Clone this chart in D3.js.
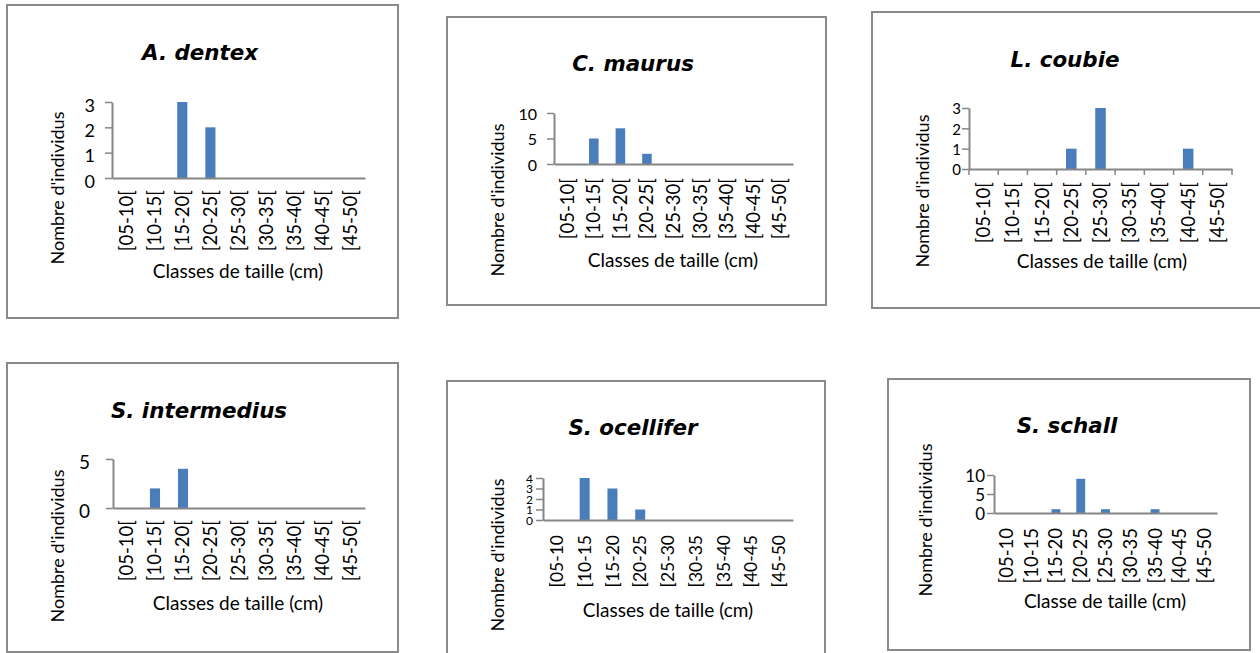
<!DOCTYPE html>
<html>
<head>
<meta charset="utf-8">
<script src="https://cdn.jsdelivr.net/npm/d3@7"></script>
<style>
  html, body { margin: 0; padding: 0; background: #fff; }
  svg { display: block; font-family: Lato, "Open Sans", sans-serif; }
</style>
</head>
<body>
<svg id="chart" width="1260" height="653"></svg>
<script>
// ---------- DATA ----------
const classesClosed = ["[05-10[", "[10-15[", "[15-20[", "[20-25[", "[25-30[", "[30-35[", "[35-40[", "[40-45[", "[45-50["];
const classesOpen   = ["[05-10", "[10-15", "[15-20", "[20-25", "[25-30", "[30-35", "[35-40", "[40-45", "[45-50"];

const speciesNames = ["A. dentex", "C. maurus", "L. coubie", "S. intermedius", "S. ocellifer", "S. schall"];

const dentexCounts      = [0, 0, 3, 2, 0, 0, 0, 0, 0];
const maurusCounts      = [0, 5, 7, 2, 0, 0, 0, 0, 0];
const coubieCounts      = [0, 0, 0, 1, 3, 0, 0, 1, 0];
const intermediusCounts = [0, 2, 4, 0, 0, 0, 0, 0, 0];
const ocelliferCounts   = [0, 4, 3, 1, 0, 0, 0, 0, 0];
const schallCounts      = [0, 0, 1, 9, 1, 0, 1, 0, 0];

const dentexTicks      = [0, 1, 2, 3];
const maurusTicks      = [0, 5, 10];
const coubieTicks      = [0, 1, 2, 3];
const intermediusTicks = [0, 5];
const ocelliferTicks   = [0, 1, 2, 3, 4];
const schallTicks      = [0, 5, 10];

const yTitle = "Nombre d'individus";
const xTitlePlural = "Classes de taille (cm)";
const xTitleSingular = "Classe de taille (cm)";

// ---------- LAYOUT (positions / sizes / styles) ----------
const layouts = [
  { frame:[7,5,398,318],     ax:[112,365,178,102],  title:[200,60],   yFont:18, yPad:10, yDy:"0.5em",  xOff:12, xFont:18.5, xTitle:[238,278],  yT:[57,188],  xTicks:false },
  { frame:[447,17,826,305],  ax:[554,793,164,113],  title:[633,71],   yFont:16, yPad:10, yDy:"0.38em", xOff:14, xFont:18.5, xTitle:[673,267],  yT:[497,200], xTicks:false },
  { frame:[872,12,1264,308], ax:[969,1232,169,108], title:[1065,67],  yFont:15, yPad:1,  yDy:"0.38em", xOff:13, xFont:18.5, xTitle:[1102,268], yT:[922,191], xTicks:true },
  { frame:[7,363,398,652],   ax:[113,365,508,459],  title:[199,418],  yFont:19, yPad:16, yDy:"0.5em",  xOff:12, xFont:18.5, xTitle:[238,610],  yT:[57,546],  xTicks:false },
  { frame:[447,381,825,662], ax:[543,793,520,478],  title:[633,435],  yFont:12, yPad:3,  yDy:"0.35em", xOff:15, xFont:17.5, xTitle:[668,617],  yT:[497,555], xTicks:false },
  { frame:[888,379,1250,650],ax:[994,1217,513,475], title:[1067,433], yFont:17, yPad:2,  yDy:"0.38em", xOff:15, xFont:18.5, xTitle:[1105,608], yT:[925,520], xTicks:false }
];

const panels = [
  { name: speciesNames[0], counts: dentexCounts,      ticks: dentexTicks,      cats: classesClosed, xTitle: xTitlePlural },
  { name: speciesNames[1], counts: maurusCounts,      ticks: maurusTicks,      cats: classesClosed, xTitle: xTitlePlural },
  { name: speciesNames[2], counts: coubieCounts,      ticks: coubieTicks,      cats: classesClosed, xTitle: xTitlePlural },
  { name: speciesNames[3], counts: intermediusCounts, ticks: intermediusTicks, cats: classesClosed, xTitle: xTitlePlural },
  { name: speciesNames[4], counts: ocelliferCounts,   ticks: ocelliferTicks,   cats: classesOpen,   xTitle: xTitlePlural },
  { name: speciesNames[5], counts: schallCounts,      ticks: schallTicks,      cats: classesOpen,   xTitle: xTitleSingular }
];

const barColor = "#4a7ebb";
const axisColor = "#868686";
const frameColor = "#8a8a8a";
const titleFont = "'DejaVu Sans', Verdana, sans-serif";
const bodyFont = "Lato, sans-serif";

const svg = d3.select("#chart");

panels.forEach((p, i) => {
  const L = layouts[i];
  const g = svg.append("g");

  // frame
  g.append("rect")
    .attr("x", L.frame[0]).attr("y", L.frame[1])
    .attr("width", L.frame[2] - L.frame[0]).attr("height", L.frame[3] - L.frame[1])
    .attr("fill", "#fff").attr("stroke", frameColor).attr("stroke-width", 2);

  const [x0, x1, y0, yTop] = L.ax;
  const x = d3.scaleBand().domain(p.cats).range([x0, x1]).paddingInner(0.64).paddingOuter(0.32);
  const y = d3.scaleLinear().domain([0, d3.max(p.ticks)]).range([y0, yTop]);

  // title
  g.append("text")
    .attr("x", L.title[0]).attr("y", L.title[1])
    .attr("text-anchor", "middle")
    .attr("font-family", titleFont)
    .attr("font-size", 21.4).attr("font-weight", "bold").attr("font-style", "italic")
    .attr("fill", "#000")
    .text(p.name);

  // bars
  g.selectAll("rect.bar").data(p.counts.map((v, k) => ({ c: p.cats[k], v })))
    .join("rect").attr("class", "bar")
    .attr("x", d => x(d.c)).attr("width", x.bandwidth())
    .attr("y", d => y(d.v)).attr("height", d => y(0) - y(d.v))
    .attr("fill", barColor);

  // y axis
  const yAxis = d3.axisLeft(y).tickValues(p.ticks).tickFormat(d3.format("d"))
    .tickSize(7).tickPadding(L.yPad).tickSizeOuter(0);
  const ya = g.append("g").attr("transform", `translate(${x0},0)`).call(yAxis);
  ya.select(".domain").attr("stroke", axisColor).attr("stroke-width", 2);
  ya.selectAll(".tick line").attr("stroke", axisColor).attr("stroke-width", 1.5);
  ya.selectAll(".tick text").attr("font-size", L.yFont).attr("fill", "#000")
    .attr("font-family", bodyFont).attr("dy", L.yDy);

  // x axis
  const xAxis = d3.axisBottom(x).tickSize(0).tickSizeOuter(0).tickPadding(0);
  const xa = g.append("g").attr("transform", `translate(0,${y0})`).call(xAxis);
  xa.select(".domain").attr("stroke", axisColor).attr("stroke-width", 2);
  xa.selectAll(".tick text")
    .attr("font-size", L.xFont).attr("fill", "#000").attr("font-family", bodyFont)
    .attr("x", 0).attr("y", 0).attr("dy", "0.35em")
    .attr("text-anchor", "end")
    .attr("transform", `translate(0,${L.xOff}) rotate(-90)`);

  if (L.xTicks) {
    const step = x.step();
    const bounds = d3.range(p.cats.length + 1).map(k => x0 + k * step);
    g.selectAll("line.xt").data(bounds).join("line").attr("class", "xt")
      .attr("x1", d => d).attr("x2", d => d).attr("y1", y0).attr("y2", y0 + 6)
      .attr("stroke", axisColor).attr("stroke-width", 1.5);
  }

  // axis titles
  g.append("text")
    .attr("x", L.xTitle[0]).attr("y", L.xTitle[1])
    .attr("text-anchor", "middle").attr("font-size", 19).attr("fill", "#000")
    .attr("font-family", bodyFont)
    .text(p.xTitle);

  g.append("text")
    .attr("transform", `translate(${L.yT[0]},${L.yT[1]}) rotate(-90)`)
    .attr("text-anchor", "middle").attr("dominant-baseline", "central")
    .attr("font-size", 18).attr("fill", "#000").attr("font-family", bodyFont)
    .text(yTitle);
});
</script>
</body>
</html>
